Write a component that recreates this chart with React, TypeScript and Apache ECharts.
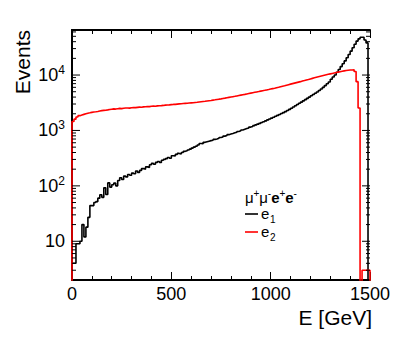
import React, { useEffect, useRef } from "react";
import * as echarts from "echarts";

// Histogram binning (GeV)
const BIN_WIDTH = 10;
const E_MIN = 0;
const E_MAX = 1500;
const Y_MIN = 2;
const Y_MAX = 65000;

// e1 (black) bin contents, 10 GeV bins from 0 to 1500
const E1 = [
  4, 4, 9, 9, 10, 20, 12, 18, 27, 44,
  44, 50, 52, 60, 69, 62, 92, 70, 113, 95,
  105, 112, 100, 125, 140, 130, 150, 145, 160, 155,
  170, 165, 185, 175, 190, 205, 200, 220, 215, 240,
  255, 245, 265, 275, 265, 290, 300, 310, 325, 315,
  350, 345, 370, 385, 375, 400, 420, 430, 445, 460,
  480, 500, 520, 545, 580, 575, 610, 625, 640, 655,
  665, 690, 700, 720, 745, 760, 790, 810, 840, 860,
  880, 905, 930, 960, 985, 1020, 1050, 1080, 1110, 1150,
  1180, 1220, 1260, 1300, 1340, 1390, 1440, 1490, 1550, 1610,
  1670, 1730, 1800, 1870, 1940, 2020, 2100, 2190, 2290, 2400,
  2520, 2650, 2790, 2940, 3100, 3250, 3420, 3600, 3800, 4000,
  4220, 4450, 4700, 4950, 5250, 5600, 6000, 6450, 6950, 7500,
  8400, 9200, 10000, 11200, 12600, 14200, 16000, 18000, 20500, 23500,
  27000, 31000, 36000, 41000, 45000, 48000, 48000, 43000, 38000, 1,
];

// e2 (red) bin contents
const E2 = [
  1450, 1600, 1750, 1850, 1900, 1950, 2000, 2050, 2080, 2120,
  2150, 2170, 2200, 2240, 2280, 2300, 2320, 2350, 2390, 2420,
  2450, 2430, 2470, 2500, 2480, 2520, 2540, 2550, 2530, 2570,
  2590, 2580, 2610, 2640, 2620, 2660, 2670, 2700, 2690, 2730,
  2750, 2740, 2780, 2800, 2810, 2830, 2860, 2880, 2890, 2920,
  2950, 2960, 2990, 3020, 3030, 3060, 3080, 3100, 3120, 3140,
  3160, 3190, 3220, 3255, 3290, 3325, 3360, 3400, 3440, 3480,
  3525, 3570, 3620, 3670, 3720, 3775, 3830, 3890, 3950, 4010,
  4070, 4130, 4200, 4270, 4340, 4410, 4480, 4560, 4640, 4720,
  4800, 4880, 4960, 5040, 5130, 5220, 5300, 5390, 5480, 5580,
  5680, 5780, 5900, 6020, 6150, 6280, 6400, 6550, 6700, 6850,
  7000, 7150, 7300, 7450, 7600, 7780, 7950, 8130, 8300, 8500,
  8700, 8900, 9100, 9300, 9500, 9700, 9900, 10100, 10300, 10500,
  10700, 10900, 11100, 11300, 11500, 11700, 11900, 12100, 12200, 12300,
  12350, 12400, 11600, 7600, 2550, 1, 3, 3, 3, 3,
];

const Y_MAJOR = [10, 100, 1000, 10000];
const Y_MINOR = [
  3, 4, 5, 6, 7, 8, 9,
  20, 30, 40, 50, 60, 70, 80, 90,
  200, 300, 400, 500, 600, 700, 800, 900,
  2000, 3000, 4000, 5000, 6000, 7000, 8000, 9000,
  20000, 30000, 40000, 50000, 60000,
];

const X_INTERVAL = 500;
const FONT = '"Liberation Sans", Arial, Helvetica, sans-serif';

function histPoints(vals: number[]) {
  const pts: number[][] = [[E_MIN, 0.1]];
  vals.forEach((v, i) => pts.push([E_MIN + i * BIN_WIDTH, v]));
  const end = E_MIN + vals.length * BIN_WIDTH;
  pts.push([end, vals[vals.length - 1]]);
  pts.push([end, 0.1]);
  return pts;
}

function txt(text: string, x: number, y: number, size: number, extra: any = {}) {
  return {
    type: "text",
    x,
    y,
    style: {
      text,
      font: `${extra.bold ? "bold " : ""}${size}px ${FONT}`,
      fill: "#000",
      align: extra.align || "left",
      verticalAlign: "middle",
    },
  };
}

export default function App() {
  const ref = useRef<HTMLDivElement>(null);

  useEffect(() => {
    document.body.style.margin = "0";
    if (!ref.current) return;
    const chart = echarts.init(ref.current, null, { renderer: "svg" });

    const xAxisCommon = {
      type: "value",
      min: E_MIN,
      max: E_MAX,
      interval: X_INTERVAL,
      splitLine: { show: false },
      axisLine: { show: true, lineStyle: { color: "#000", width: 2 } },
      axisTick: { show: true, inside: true, length: 8, lineStyle: { color: "#000", width: 1 } },
      minorTick: { show: true, splitNumber: 5, length: 4, lineStyle: { color: "#000", width: 1 } },
    };

    const yAxisCommon = {
      type: "log",
      logBase: 10,
      min: Y_MIN,
      max: Y_MAX,
      splitLine: { show: false },
      axisLine: { show: true, lineStyle: { color: "#000", width: 2 } },
      axisTick: { show: false },
    };

    // legend title pieces: mu+ mu- e+ e-
    const tx0 = 245;
    const legendTitle = [
      txt("μ", tx0, 197.8, 15),
      txt("+", tx0 + 8.6, 193.5, 10),
      txt("μ", tx0 + 14.2, 197.8, 15),
      txt("-", tx0 + 22.8, 193.5, 10),
      txt("e", tx0 + 26.2, 197.8, 15, { bold: true }),
      txt("+", tx0 + 34.6, 193.5, 10),
      txt("e", tx0 + 40.2, 197.8, 15, { bold: true }),
      txt("-", tx0 + 48.6, 193.5, 10),
    ];

    const option: any = {
      animation: false,
      grid: { left: 72, right: 37, top: 30, bottom: 64, containLabel: false },
      xAxis: [
        {
          ...xAxisCommon,
          position: "bottom",
          axisLabel: {
            show: true,
            margin: 5,
            color: "#000",
            fontSize: 18,
            fontFamily: FONT,
            formatter: (v: number) => String(v),
          },
        },
        {
          ...xAxisCommon,
          position: "top",
          axisLabel: { show: false },
        },
      ],
      yAxis: [
        {
          ...yAxisCommon,
          position: "left",
          axisLabel: {
            show: true,
            margin: 7,
            color: "#000",
            fontFamily: FONT,
            showMinLabel: true,
            showMaxLabel: true,
            formatter: (value: number) => {
              const l = Math.log10(value);
              const r = Math.round(l);
              if (Math.abs(l - r) > 1e-6) return "";
              if (r === 1) return "{a|10}";
              return `{a|10}{b|${r}}`;
            },
            rich: {
              a: { fontSize: 18, lineHeight: 22, fontFamily: FONT, color: "#000" },
              b: { fontSize: 12, lineHeight: 12, verticalAlign: "top", fontFamily: FONT, color: "#000" },
            },
          },
        },
        {
          ...yAxisCommon,
          position: "right",
          axisLabel: { show: false },
        },
      ],
      series: [
        {
          name: "e1",
          type: "line",
          step: "end",
          data: histPoints(E1),
          showSymbol: false,
          symbol: "none",
          clip: true,
          silent: true,
          lineStyle: { color: "#000", width: 1.6 },
          z: 3,
        },
        {
          name: "e2",
          type: "line",
          step: "end",
          data: histPoints(E2),
          showSymbol: false,
          symbol: "none",
          clip: true,
          silent: true,
          lineStyle: { color: "#ff0000", width: 1.6 },
          z: 4,
        },
        {
          name: "yticks",
          type: "custom",
          silent: true,
          xAxisIndex: 0,
          yAxisIndex: 0,
          z: 5,
          data: [
            ...Y_MAJOR.map((v) => [E_MIN, v, 1]),
            ...Y_MINOR.map((v) => [E_MIN, v, 0]),
          ],
          renderItem: (params: any, api: any) => {
            const v = api.value(1);
            const major = api.value(2) === 1;
            const len = major ? 8 : 4;
            const l = api.coord([E_MIN, v]);
            const r = api.coord([E_MAX, v]);
            return {
              type: "group",
              children: [
                {
                  type: "line",
                  shape: { x1: l[0], y1: l[1], x2: l[0] + len, y2: l[1] },
                  style: { stroke: "#000", lineWidth: 1 },
                },
                {
                  type: "line",
                  shape: { x1: r[0] - len, y1: r[1], x2: r[0], y2: r[1] },
                  style: { stroke: "#000", lineWidth: 1 },
                },
              ],
            };
          },
        },
      ],
      graphic: [
        {
          type: "text",
          x: 22,
          y: 30,
          rotation: Math.PI / 2,
          style: {
            text: "Events",
            font: `21px ${FONT}`,
            fill: "#000",
            align: "right",
            verticalAlign: "middle",
          },
        },
        txt("E [GeV]", 372, 317, 21, { align: "right" }),
        ...legendTitle,
        {
          type: "line",
          shape: { x1: 245, y1: 214, x2: 258, y2: 214 },
          style: { stroke: "#000", lineWidth: 1.6 },
        },
        txt("e", 261, 213, 15),
        txt("1", 270, 219, 10),
        {
          type: "line",
          shape: { x1: 245, y1: 232, x2: 258, y2: 232 },
          style: { stroke: "#ff0000", lineWidth: 1.6 },
        },
        txt("e", 261, 231, 15),
        txt("2", 270, 237, 10),
      ],
    };

    chart.setOption(option);
    return () => chart.dispose();
  }, []);

  return <div ref={ref} style={{ width: 407, height: 344 }} />;
}
